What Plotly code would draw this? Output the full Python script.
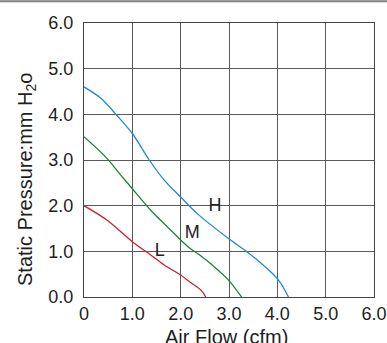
import plotly.graph_objects as go

h_x = [0, 0.35, 0.66, 1.0, 1.35, 1.66, 2.0, 2.35, 2.99, 3.37, 3.75, 4.04, 4.23]
h_y = [4.6, 4.35, 4.0, 3.58, 3.0, 2.56, 2.19, 1.82, 1.28, 0.99, 0.66, 0.35, 0.0]
m_x = [0, 0.48, 0.76, 1.0, 1.38, 1.72, 2.0, 2.19, 2.42, 2.61, 2.99, 3.26]
m_y = [3.51, 3.03, 2.67, 2.37, 1.9, 1.54, 1.25, 1.07, 0.9, 0.74, 0.37, 0.0]
l_x = [0, 0.48, 1.0, 1.38, 1.66, 2.0, 2.19, 2.42, 2.52]
l_y = [2.0, 1.68, 1.21, 0.92, 0.70, 0.48, 0.33, 0.15, 0.0]

labels = ["H", "M", "L"]
label_x = [2.71, 2.24, 1.57]
label_y = [1.99, 1.39, 0.99]

x_ticks = [0, 1, 2, 3, 4, 5, 6]
x_tick_text = ["0", "1.0", "2.0", "3.0", "4.0", "5.0", "6.0"]
y_ticks = [0, 1, 2, 3, 4, 5, 6]
y_tick_text = ["0.0", "1.0", "2.0", "3.0", "4.0", "5.0", "6.0"]

FONT = "Liberation Sans, Arial, sans-serif"
TXT = "#1e1e1e"

fig = go.Figure()
for xs, ys, c in [(h_x, h_y, "#1e8ad2"), (m_x, m_y, "#16853a"), (l_x, l_y, "#c8202e")]:
    fig.add_trace(go.Scatter(x=xs, y=ys, mode="lines",
                             line=dict(color=c, width=1.3, shape="spline", smoothing=0.9),
                             showlegend=False, hoverinfo="skip"))
fig.add_trace(go.Scatter(x=label_x, y=label_y, mode="text", text=labels,
                         textfont=dict(family=FONT, size=18, color=TXT),
                         showlegend=False, hoverinfo="skip"))

axis_common = dict(showgrid=True, gridcolor="#5a5a5a", gridwidth=1,
                   showline=True, linecolor="#444", linewidth=1, mirror=True,
                   zeroline=False, automargin=False,
                   tickfont=dict(family=FONT, size=18, color=TXT))
fig.update_xaxes(range=[0, 6], tickvals=x_ticks, ticktext=x_tick_text,
                 ticks="", **axis_common)
fig.update_yaxes(range=[0, 6], tickvals=y_ticks, ticktext=y_tick_text,
                 ticks="outside", ticklen=6, tickcolor="rgba(0,0,0,0)", **axis_common)
fig.add_annotation(text="Air Flow (cfm)", xref="paper", yref="paper", x=0.49, y=-0.146,
                   xanchor="center", yanchor="middle", showarrow=False,
                   font=dict(family=FONT, size=20, color=TXT))
fig.add_annotation(text="Static Pressure:mm H<sub>2</sub>o", xref="paper", yref="paper",
                   x=-0.2, y=0.427, xanchor="center", yanchor="middle", textangle=-90,
                   showarrow=False, font=dict(family=FONT, size=20, color=TXT))
fig.add_shape(type="line", xref="paper", yref="paper", x0=-0.3, x1=1.1, y0=1.079, y1=1.079,
              line=dict(color="#808080", width=2))
fig.update_layout(width=387, height=343, margin=dict(l=84, r=13, t=23, b=46),
                  plot_bgcolor="white", paper_bgcolor="white")
fig.write_html("out.html")
